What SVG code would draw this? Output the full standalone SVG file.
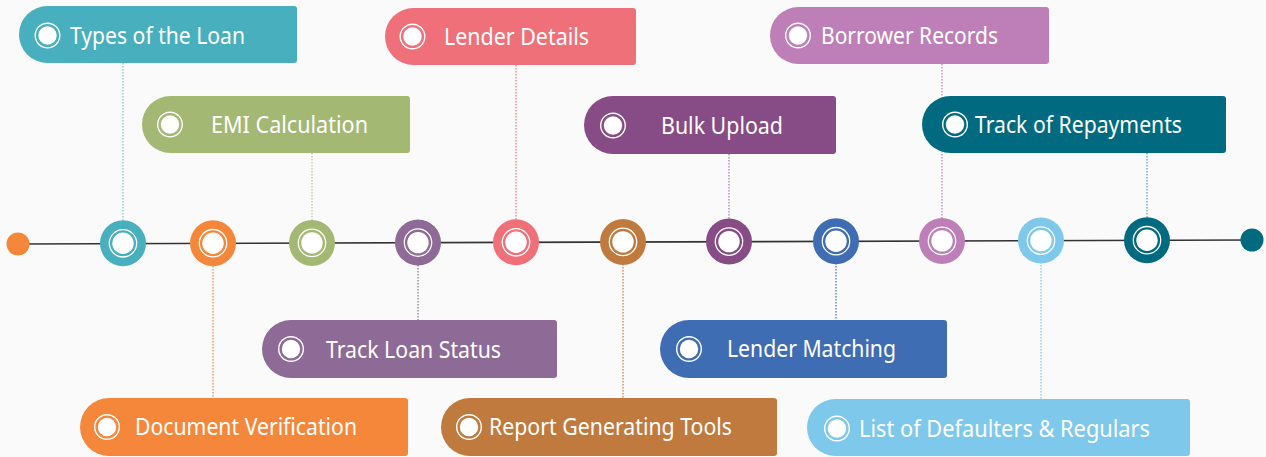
<svg xmlns="http://www.w3.org/2000/svg" width="1266" height="457" viewBox="0 0 1266 457">
<defs>
<style>
.lbl{font-family:"Noto Sans","Open Sans","DejaVu Sans",sans-serif;font-size:23px;fill:#fff}
.ring{fill:none;stroke:#fff;stroke-width:1.4}
.dot{fill:#fff}
.conn{fill:none;stroke-width:1.2;stroke-dasharray:1.5 1.5}
.nring{fill:none;stroke:#fff;stroke-width:1.3}
</style>
</defs>
<rect width="1266" height="457" fill="#fafafa"/>
<g id="connectors">
<line x1="18" y1="244" x2="1252" y2="240" stroke="#333" stroke-width="1.6"/>
<line class="conn" x1="123" y1="63" x2="123" y2="221" stroke="#7cc6d0"/>
<line class="conn" x1="312" y1="153" x2="312" y2="221" stroke="#b9c99a"/>
<line class="conn" x1="516" y1="65" x2="516" y2="220" stroke="#f07079"/>
<line class="conn" x1="729" y1="154" x2="729" y2="219" stroke="#a873a6"/>
<line class="conn" x1="942" y1="64" x2="942" y2="218" stroke="#be7fb9"/>
<line class="conn" x1="1147" y1="153" x2="1147" y2="217" stroke="#4f9db0"/>
<line class="conn" x1="213" y1="266" x2="213" y2="398" stroke="#f5873a"/>
<line class="conn" x1="418" y1="265" x2="418" y2="320" stroke="#8e6a96"/>
<line class="conn" x1="623" y1="264" x2="623" y2="398" stroke="#c07a3e"/>
<line class="conn" x1="836" y1="263" x2="836" y2="320" stroke="#3f6db3"/>
<line class="conn" x1="1041" y1="262" x2="1041" y2="399" stroke="#7ec9eb"/>
</g>
<g id="start"><circle cx="18" cy="244" r="11.5" fill="#f5873a"/></g>
<g id="end"><circle cx="1252" cy="240" r="11.5" fill="#006b80"/></g>
<g id="n1"><circle cx="123" cy="243.3" r="23" fill="#47afbe"/><circle class="nring" cx="123" cy="243.3" r="13.7"/><circle class="dot" cx="123" cy="243.3" r="10.7"/></g>
<g id="n2"><circle cx="213" cy="243.2" r="23" fill="#f5873a"/><circle class="nring" cx="213" cy="243.2" r="13.7"/><circle class="dot" cx="213" cy="243.2" r="10.7"/></g>
<g id="n3"><circle cx="312" cy="242.9" r="23" fill="#a3b872"/><circle class="nring" cx="312" cy="242.9" r="13.7"/><circle class="dot" cx="312" cy="242.9" r="10.7"/></g>
<g id="n4"><circle cx="418" cy="242.6" r="23" fill="#8e6a96"/><circle class="nring" cx="418" cy="242.6" r="13.7"/><circle class="dot" cx="418" cy="242.6" r="10.7"/></g>
<g id="n5"><circle cx="516" cy="242.3" r="23" fill="#f07079"/><circle class="nring" cx="516" cy="242.3" r="13.7"/><circle class="dot" cx="516" cy="242.3" r="10.7"/></g>
<g id="n6"><circle cx="623" cy="241.9" r="23" fill="#c07a3e"/><circle class="nring" cx="623" cy="241.9" r="13.7"/><circle class="dot" cx="623" cy="241.9" r="10.7"/></g>
<g id="n7"><circle cx="729" cy="241.6" r="23" fill="#874b85"/><circle class="nring" cx="729" cy="241.6" r="13.7"/><circle class="dot" cx="729" cy="241.6" r="10.7"/></g>
<g id="n8"><circle cx="836" cy="241.2" r="23" fill="#3f6db3"/><circle class="nring" cx="836" cy="241.2" r="13.7"/><circle class="dot" cx="836" cy="241.2" r="10.7"/></g>
<g id="n9"><circle cx="942" cy="240.9" r="23" fill="#be7fb9"/><circle class="nring" cx="942" cy="240.9" r="13.7"/><circle class="dot" cx="942" cy="240.9" r="10.7"/></g>
<g id="n10"><circle cx="1041" cy="240.6" r="23" fill="#7ec9eb"/><circle class="nring" cx="1041" cy="240.6" r="13.7"/><circle class="dot" cx="1041" cy="240.6" r="10.7"/></g>
<g id="n11"><circle cx="1147" cy="240.2" r="23" fill="#006b80"/><circle class="nring" cx="1147" cy="240.2" r="13.7"/><circle class="dot" cx="1147" cy="240.2" r="10.7"/></g>

<g id="l1"><path d="M47.5,6 H294 a3,3 0 0 1 3,3 V60 a3,3 0 0 1 -3,3 H47.5 a28.5,28.5 0 0 1 0,-57 Z" fill="#47afbe"/><circle class="ring" cx="47.5" cy="35.5" r="12.3"/><circle class="dot" cx="47.5" cy="35.5" r="9.2"/><text class="lbl" x="70" y="44" textLength="175" lengthAdjust="spacingAndGlyphs">Types of the Loan</text></g>
<g id="l2"><path d="M170.5,96 H407 a3,3 0 0 1 3,3 V150 a3,3 0 0 1 -3,3 H170.5 a28.5,28.5 0 0 1 0,-57 Z" fill="#a3b872"/><circle class="ring" cx="170" cy="124.5" r="12.3"/><circle class="dot" cx="170" cy="124.5" r="9.2"/><text class="lbl" x="211" y="133" textLength="157" lengthAdjust="spacingAndGlyphs">EMI Calculation</text></g>
<g id="l3"><path d="M413.5,8 H633 a3,3 0 0 1 3,3 V62 a3,3 0 0 1 -3,3 H413.5 a28.5,28.5 0 0 1 0,-57 Z" fill="#f07079"/><circle class="ring" cx="412.5" cy="36.5" r="12.3"/><circle class="dot" cx="412.5" cy="36.5" r="9.2"/><text class="lbl" x="444" y="45" textLength="145" lengthAdjust="spacingAndGlyphs">Lender Details</text></g>
<g id="l4"><path d="M613,96 H833 a3,3 0 0 1 3,3 V151 a3,3 0 0 1 -3,3 H613 a29,29 0 0 1 0,-58 Z" fill="#874b85"/><circle class="ring" cx="613" cy="125.5" r="12.3"/><circle class="dot" cx="613" cy="125.5" r="9.2"/><text class="lbl" x="661" y="134" textLength="122" lengthAdjust="spacingAndGlyphs">Bulk Upload</text></g>
<g id="l5"><path d="M798.5,7 H1046 a3,3 0 0 1 3,3 V61 a3,3 0 0 1 -3,3 H798.5 a28.5,28.5 0 0 1 0,-57 Z" fill="#be7fb9"/><circle class="ring" cx="798" cy="35.5" r="12.3"/><circle class="dot" cx="798" cy="35.5" r="9.2"/><text class="lbl" x="821" y="44" textLength="177" lengthAdjust="spacingAndGlyphs">Borrower Records</text></g>
<g id="l6"><path d="M950.5,96 H1223 a3,3 0 0 1 3,3 V150 a3,3 0 0 1 -3,3 H950.5 a28.5,28.5 0 0 1 0,-57 Z" fill="#006b80"/><circle class="ring" cx="955" cy="124.5" r="12.3"/><circle class="dot" cx="955" cy="124.5" r="9.2"/><text class="lbl" x="975" y="133" textLength="207" lengthAdjust="spacingAndGlyphs">Track of Repayments</text></g>
<g id="l7"><path d="M291,320 H554 a3,3 0 0 1 3,3 V375 a3,3 0 0 1 -3,3 H291 a29,29 0 0 1 0,-58 Z" fill="#8e6a96"/><circle class="ring" cx="291" cy="349" r="12.3"/><circle class="dot" cx="291" cy="349" r="9.2"/><text class="lbl" x="326" y="358" textLength="175" lengthAdjust="spacingAndGlyphs">Track Loan Status</text></g>
<g id="l8"><path d="M109,398 H405 a3,3 0 0 1 3,3 V453 a3,3 0 0 1 -3,3 H109 a29,29 0 0 1 0,-58 Z" fill="#f5873a"/><circle class="ring" cx="107" cy="427" r="12.3"/><circle class="dot" cx="107" cy="427" r="9.2"/><text class="lbl" x="135" y="435" textLength="222" lengthAdjust="spacingAndGlyphs">Document Verification</text></g>
<g id="l9"><path d="M470,398 H774 a3,3 0 0 1 3,3 V453 a3,3 0 0 1 -3,3 H470 a29,29 0 0 1 0,-58 Z" fill="#c07a3e"/><circle class="ring" cx="469" cy="427" r="12.3"/><circle class="dot" cx="469" cy="427" r="9.2"/><text class="lbl" x="489" y="435" textLength="243" lengthAdjust="spacingAndGlyphs">Report Generating Tools</text></g>
<g id="l10"><path d="M689,320 H944 a3,3 0 0 1 3,3 V375 a3,3 0 0 1 -3,3 H689 a29,29 0 0 1 0,-58 Z" fill="#3f6db3"/><circle class="ring" cx="689" cy="349" r="12.3"/><circle class="dot" cx="689" cy="349" r="9.2"/><text class="lbl" x="727" y="357" textLength="169" lengthAdjust="spacingAndGlyphs">Lender Matching</text></g>
<g id="l11"><path d="M835.5,399 H1187 a3,3 0 0 1 3,3 V453 a3,3 0 0 1 -3,3 H835.5 a28.5,28.5 0 0 1 0,-57 Z" fill="#7ec9eb"/><circle class="ring" cx="837" cy="428.5" r="12.3"/><circle class="dot" cx="837" cy="428.5" r="9.2"/><text class="lbl" x="859" y="437" textLength="291" lengthAdjust="spacingAndGlyphs">List of Defaulters &amp; Regulars</text></g>
</svg>
